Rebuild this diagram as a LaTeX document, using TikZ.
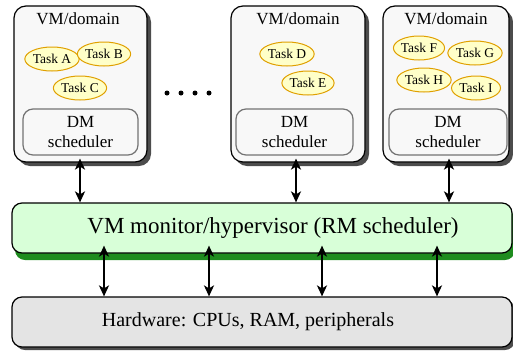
\documentclass[tikz,border=0pt]{standalone}
\usepackage{fontspec}
\setmainfont{Liberation Serif}
\usetikzlibrary{arrows.meta,shapes.geometric,shadows}
\definecolor{taskfill}{HTML}{FFFFC8}
\definecolor{taskline}{HTML}{E0A000}
\definecolor{vmfill}{HTML}{F8F8F8}
\definecolor{hypfill}{HTML}{D8FFD8}
\definecolor{hypshadow}{HTML}{1E8C1E}
\definecolor{hwfill}{HTML}{E4E4E4}
\tikzset{
  vmbox/.style={draw=black, line width=1.2pt, fill=vmfill, rounded corners=12pt,
    minimum height=156pt, inner sep=0pt,
    drop shadow={shadow xshift=4pt, shadow yshift=-4pt, fill=black!70, opacity=1}},
  vmtitle/.style={font=\fontsize{17}{19}\selectfont, inner sep=0pt},
  dmbox/.style={draw=black!55, line width=1.2pt, fill=vmfill, rounded corners=10pt,
    minimum height=46pt, inner sep=0pt, align=center,
    font=\fontsize{17}{20}\selectfont},
  task/.style={ellipse, draw=taskline, line width=1pt, fill=taskfill,
    minimum width=49pt, minimum height=24pt, inner sep=0pt,
    font=\fontsize{13.5}{15}\selectfont},
  bar/.style={draw=black, line width=1.2pt, rounded corners=10pt,
    minimum width=500pt, minimum height=50pt, inner sep=0pt},
  label/.style={inner sep=0pt},
  arr/.style={{Stealth[length=11pt,width=10pt,inset=3pt]}-{Stealth[length=11pt,width=10pt,inset=3pt]}, line width=2pt},
  dot/.style={circle, fill=black, inner sep=0pt, minimum size=5pt}
}
\begin{document}
\begin{tikzpicture}[x=1pt,y=-1pt]
\useasboundingbox (0,0) rectangle (513,351);

% virtual machines
\node[vmbox, minimum width=133pt] (vm1) at (80.5,84) {};
\node[vmbox, minimum width=134pt] (vm2) at (298,84) {};
\node[vmbox, minimum width=126pt] (vm3) at (446,84) {};

\node[vmtitle] (t1) at (78,19) {VM/domain};
\node[vmtitle] (t2) at (298,19) {VM/domain};
\node[vmtitle] (t3) at (446,19) {VM/domain};

\node[dmbox, minimum width=115pt] (dm1) at (80.5,132) {DM\\scheduler};
\node[dmbox, minimum width=117pt] (dm2) at (294.5,132) {DM\\scheduler};
\node[dmbox, minimum width=118pt] (dm3) at (448,132) {DM\\scheduler};

% tasks
\node[task] (ta) at (52,59) {Task A};
\node[task] (tb) at (104,54) {Task B};
\node[task] (tc) at (80,88) {Task C};
\node[task] (td) at (287,54) {Task D};
\node[task] (te) at (308,83) {Task E};
\node[task] (tf) at (419,48) {Task F};
\node[task] (tg) at (475,53) {Task G};
\node[task] (th) at (424,80) {Task H};
\node[task] (ti) at (476,88) {Task I};

% ellipsis between domains
\node[dot] (d1) at (167,93) {};
\node[dot] (d2) at (181,93) {};
\node[dot] (d3) at (195,93) {};
\node[dot] (d4) at (209,93) {};

% hypervisor and hardware layers
\node[bar, fill=hypfill,
  drop shadow={shadow xshift=3pt, shadow yshift=-7pt, fill=hypshadow, opacity=1}]
  (hyp) at (262,228) {};
\node[label, font=\fontsize{23}{26}\selectfont] (hyplabel) at (273,228)
  {VM monitor/hypervisor (RM scheduler)};
\node[bar, fill=hwfill,
  drop shadow={shadow xshift=3pt, shadow yshift=-3pt, fill=black!70, opacity=1}]
  (hw) at (262,322) {};
\node[label, font=\fontsize{20}{24}\selectfont] (hwlabel) at (248,322)
  {Hardware: CPUs, RAM, peripherals};

% domain <-> hypervisor
\draw[arr] ([yshift=4pt]vm1.south -| 80,0) -- (hyp.north -| 80,0);
\draw[arr] ([yshift=4pt]vm2.south -| 296,0) -- (hyp.north -| 296,0);
\draw[arr] ([yshift=4pt]vm3.south -| 449,0) -- (hyp.north -| 449,0);

% hypervisor <-> hardware
\draw[arr] ([yshift=8pt]hyp.south -| 104,0) -- (hw.north -| 104,0);
\draw[arr] ([yshift=8pt]hyp.south -| 209,0) -- (hw.north -| 209,0);
\draw[arr] ([yshift=8pt]hyp.south -| 322,0) -- (hw.north -| 322,0);
\draw[arr] ([yshift=8pt]hyp.south -| 437,0) -- (hw.north -| 437,0);
\end{tikzpicture}
\end{document}
